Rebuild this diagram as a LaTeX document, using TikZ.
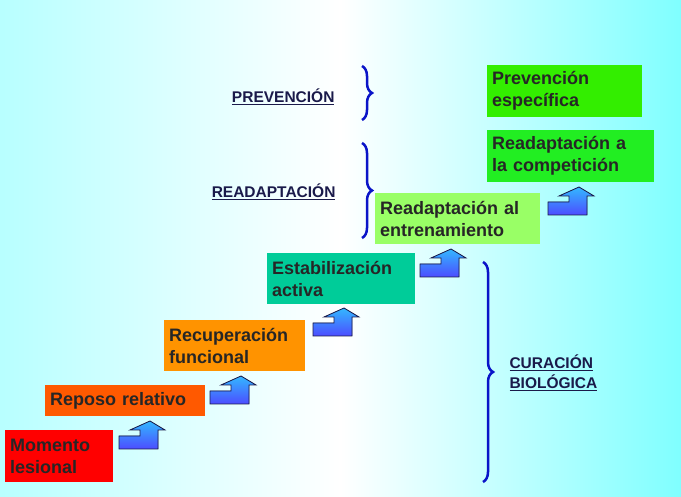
\documentclass[tikz,border=0pt]{standalone}
\usepackage{fontspec}
\setmainfont{Liberation Sans}
\usetikzlibrary{%
  positioning,%
  decorations.pathreplacing% brace
}
\definecolor{navy}{HTML}{1A1A4A}
\definecolor{bracecol}{HTML}{0A14C8}
\definecolor{teal2}{HTML}{00CC99}
\definecolor{lgreen}{HTML}{99FF66}
\definecolor{cgreen}{HTML}{22EE22}
\definecolor{pgreen}{HTML}{33EE00}
\newcommand{\steparrow}[2]{%
  \fill[top color=blue!35!cyan!80!white,bottom color=blue!70,draw=navy,thick]
    (#1,#2) -- ++(0,-13) -- ++(21,0) -- ++(0,-6) -- ++(-10,0)
    -- ++(20,-9) -- ++(15,9) -- ++(-7,0) -- ++(0,19) -- cycle;}
\begin{document}
\begin{tikzpicture}[x=1pt,y=-1pt,
  phase/.style={
	rectangle,anchor=north west,
	inner sep=5pt,
	align=left,
	font=\fontsize{18}{22}\selectfont\bfseries,
	text=black!85
	},label/.style={
	font=\fontsize{15.5}{20}\selectfont\bfseries,
	text=navy,align=left
	},curly/.style={
	draw=bracecol,line width=2.5pt,
	decorate,decoration={brace,amplitude=10pt}
	}
]
% background
\shade[left color=cyan!28,right color=cyan!50,middle color=white] (0,0) rectangle (681,497);
\useasboundingbox (0,0) rectangle (681,497);

% steps
\node (lesion) [phase,fill=red,minimum width=108,minimum height=52,text width=98] at (5,430) {Momento\\lesional};
\node (reposo) [phase,fill=orange!70!red,minimum width=160,minimum height=31,text width=150] at (45,385) {Reposo relativo};
\node (recup) [phase,fill=orange!85!yellow,minimum width=141,minimum height=51,text width=131] at (164,320) {Recuperación\\funcional};
\node (estab) [phase,fill=teal2,minimum width=148,minimum height=51,text width=138] at (267,253) {Estabilización\\activa};
\node (entren) [phase,fill=lgreen,minimum width=165,minimum height=51,text width=155] at (375,193) {Readaptación al\\entrenamiento};
\node (compet) [phase,fill=cgreen,minimum width=167,minimum height=52,text width=157] at (487,130) {Readaptación a\\la competición};
\node (prev) [phase,fill=pgreen,minimum width=155,minimum height=52,text width=145] at (487,65) {Prevención\\específica};

\steparrow{119}{449}
\steparrow{210}{404}
\steparrow{313}{336}
\steparrow{420}{277}
\steparrow{548}{215}

% braces
\coordinate (pvtop) at (362,66);
\coordinate (pvbot) at (362,120);
\coordinate (rdtop) at (362,143);
\coordinate (rdbot) at (362,238);
\coordinate (cbtop) at (483,262);
\coordinate (cbbot) at (483,482);
\draw[curly] (pvtop) -- (pvbot);
\draw[curly] (rdtop) -- (rdbot);
\draw[curly] (cbtop) -- (cbbot);

\node (lprev) [label,anchor=east] at (338,97) {\underline{PREVENCIÓN}};
\node (lread) [label,anchor=east] at (339,192) {\underline{READAPTACIÓN}};
\node (lcura) [label,anchor=west] at (506,373) {\underline{CURACIÓN}\\\underline{BIOLÓGICA}};
\end{tikzpicture}
\end{document}
